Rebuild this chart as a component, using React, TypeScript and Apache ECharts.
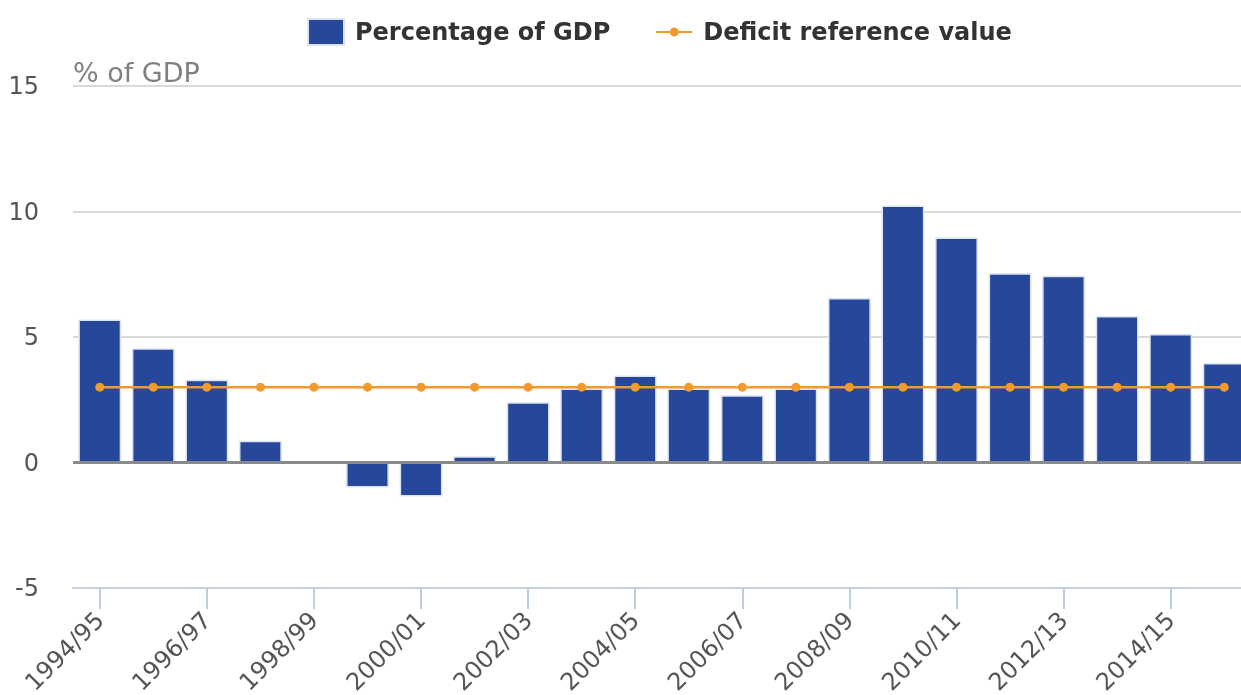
import React, { useEffect, useRef } from "react";
import * as echarts from "echarts";

const categories = [
  "1994/95", "1995/96", "1996/97", "1997/98", "1998/99", "1999/00", "2000/01", "2001/02",
  "2002/03", "2003/04", "2004/05", "2005/06", "2006/07", "2007/08", "2008/09", "2009/10",
  "2010/11", "2011/12", "2012/13", "2013/14", "2014/15", "2015/16",
];
const gdpPercent = [
  5.7, 4.55, 3.3, 0.87, 0, -1.0, -1.35, 0.25, 2.4, 2.95, 3.47, 2.95, 2.68, 2.95,
  6.55, 10.24, 8.96, 7.54, 7.44, 5.84, 5.12, 3.96,
];
const deficitReference = [
  3, 3, 3, 3, 3, 3, 3, 3, 3, 3, 3, 3, 3, 3, 3, 3, 3, 3, 3, 3, 3, 3,
];
const yTicks = { min: -5, max: 15, interval: 5 };

const FONT = "DejaVu Sans";
const LINE_ICON =
  "path://M0,0L0.01,0L0,0.01Z M36,26L35.99,26L36,25.99Z M0,12H14V14H0Z M22,12H36V14H22Z M13.5,13A4.5,4.5 0 1 1 22.5,13A4.5,4.5 0 1 1 13.5,13Z";

export default function App() {
  const ref = useRef<HTMLDivElement>(null);
  useEffect(() => {
    if (!ref.current) return;
    const chart = echarts.init(ref.current, undefined, { renderer: "svg" });
    chart.setOption({
      animation: false,
      textStyle: { fontFamily: FONT },
      legend: {
        data: [
          { name: "Percentage of GDP", icon: "rect" },
          { name: "Deficit reference value", icon: LINE_ICON },
        ],
        left: 302,
        top: 13,
        itemWidth: 36,
        itemHeight: 26,
        itemGap: 46,
        textStyle: {
          fontFamily: FONT,
          fontSize: 24,
          fontWeight: "bold",
          color: "#333333",
          padding: [0, 0, 0, 6],
        },
      },
      grid: {
        left: 73,
        right: -10,
        top: 86,
        bottom: 107,
        containLabel: false,
        outerBoundsMode: "none",
      },
      xAxis: {
        type: "category",
        data: categories,
        boundaryGap: true,
        axisLine: { show: true, onZero: false, lineStyle: { color: "#c3d1e5", width: 2 } },
        axisTick: {
          show: true,
          alignWithLabel: true,
          interval: 1,
          length: 21,
          lineStyle: { color: "#bfcde2", width: 2 },
        },
        axisLabel: {
          interval: 1,
          rotate: 45,
          margin: 28,
          fontFamily: FONT,
          fontSize: 24,
          color: "#555555",
        },
        splitLine: { show: false },
      },
      yAxis: {
        type: "value",
        min: yTicks.min,
        max: yTicks.max,
        interval: yTicks.interval,
        name: "% of GDP",
        nameLocation: "end",
        nameGap: 0,
        nameTextStyle: {
          fontFamily: FONT,
          fontSize: 27,
          color: "#808080",
          align: "left",
          verticalAlign: "bottom",
        },
        axisLine: { show: false },
        axisTick: { show: false },
        axisLabel: { margin: 34, fontFamily: FONT, fontSize: 24, color: "#555555" },
        splitLine: { lineStyle: { color: "#d9d9d9", width: 2 } },
      },
      series: [
        {
          name: "_zero",
          type: "line",
          data: [],
          z: 1,
          silent: true,
          markLine: {
            silent: true,
            symbol: "none",
            label: { show: false },
            lineStyle: { color: "#8a8a8a", width: 3, type: "solid" },
            data: [{ yAxis: 0 }],
          },
        },
        {
          name: "Percentage of GDP",
          type: "bar",
          data: gdpPercent,
          z: 3,
          barCategoryGap: "20%",
          itemStyle: { color: "#27479a", borderColor: "#dce3f1", borderWidth: 1.5 },
        },
        {
          name: "Deficit reference value",
          type: "line",
          data: deficitReference,
          z: 4,
          symbol: "circle",
          symbolSize: 9,
          lineStyle: { color: "#f39a2e", width: 2.5 },
          itemStyle: { color: "#f39a2e" },
        },
      ],
    });
    return () => chart.dispose();
  }, []);
  return (
    <div
      ref={ref}
      style={{ position: "fixed", left: 0, top: 0, width: 1241, height: 695 }}
    />
  );
}
